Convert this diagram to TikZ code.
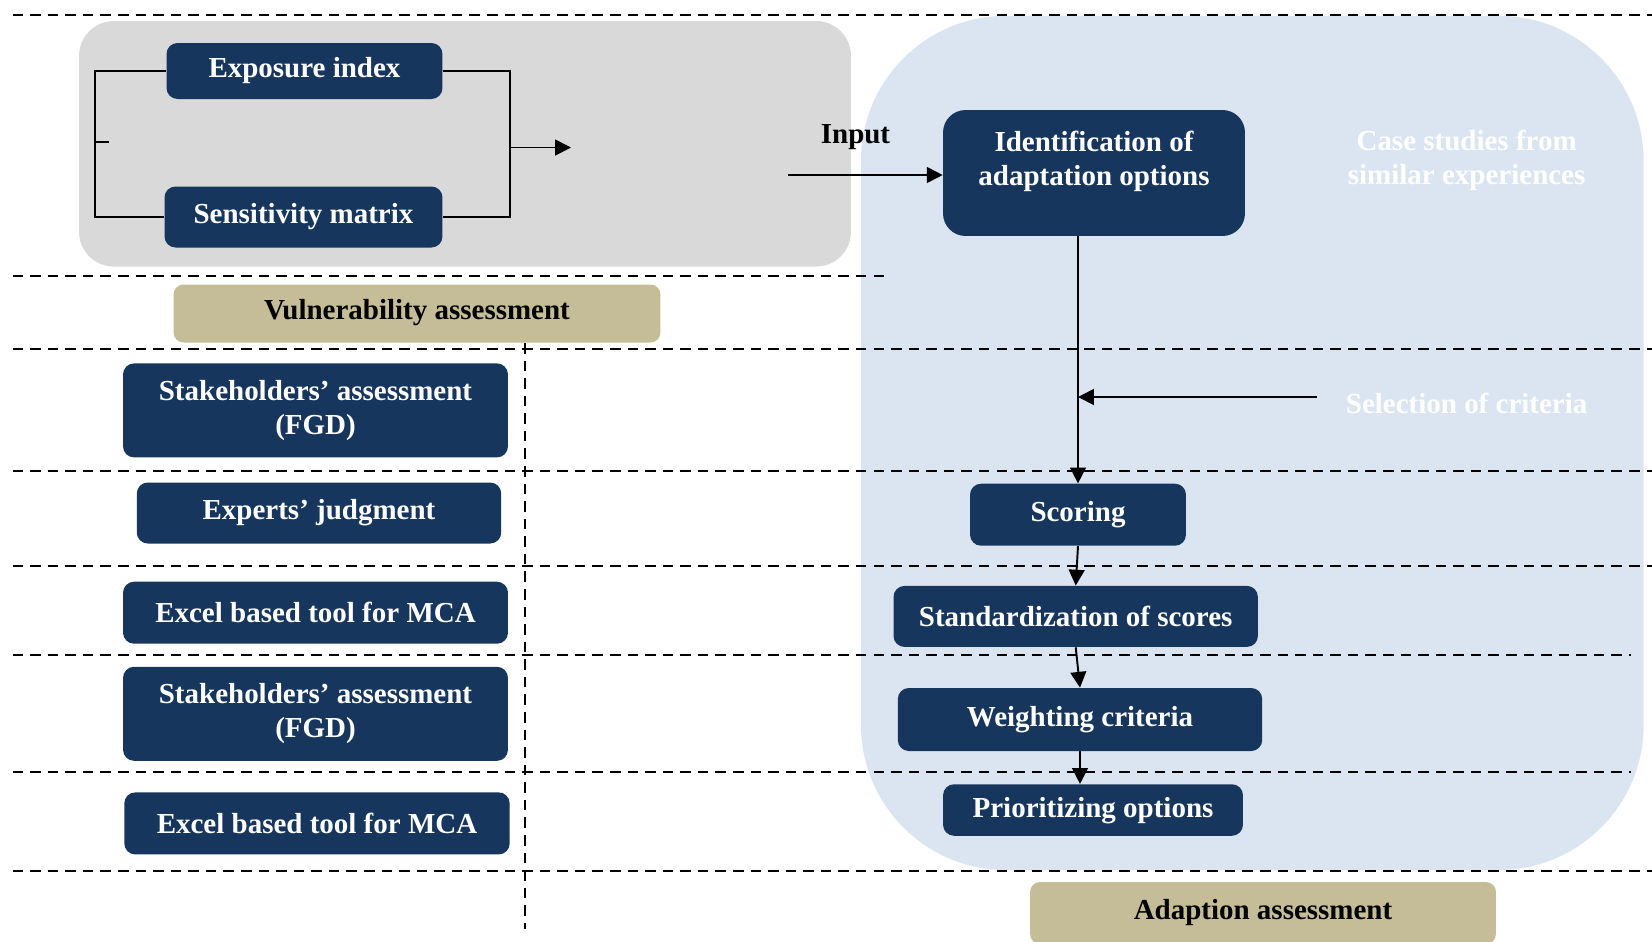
\documentclass[tikz,border=0pt]{standalone}
\usepackage{fontspec}
\setmainfont{Liberation Serif}
\usetikzlibrary{arrows.meta}

\definecolor{marinho}{HTML}{17365D}
\definecolor{cinza}{HTML}{D9D9D9}
\definecolor{azul}{HTML}{DBE5F1}
\definecolor{caqui}{HTML}{C4BD97}

\begin{document}
\begin{tikzpicture}[x=0.02cm,y=-0.02cm,
  texto/.style={font=\fontsize{16.5}{19.5}\selectfont\bfseries, align=center, inner sep=0pt},
  caixa/.style={texto, fill=marinho, text=white, rounded corners=0.22cm},
  rotulo/.style={texto, fill=caqui, rounded corners=0.2cm, text height=0.91em, text depth=0.22em},
  tracejado/.style={dash pattern=on 6pt off 4pt, line width=1.1pt},
  seta/.style={-{Triangle[length=9pt,width=9pt]}, line width=1.1pt}]

\useasboundingbox (0,0) rectangle (1652,941);
\clip (0,0) rectangle (1652,941);

% Regioes de fundo
\fill[cinza, rounded corners=0.7cm] (79,21) rectangle (851,266.6);
\fill[azul, rounded corners=2.9cm] (861,15.8) rectangle (1643.6,870);

% Linhas tracejadas
\foreach \y/\xb in {14.75/1652, 276/890, 348.7/1652, 471/1652, 565.8/1652, 655.3/1631, 772.3/1631, 871.3/1652}
  \draw[tracejado] (12.6,\y) -- (\xb,\y);
\draw[tracejado] (524.7,343) -- (524.7,929);

% Vulnerabilidade
\node[caixa, minimum width=5.52cm, minimum height=1.12cm, text height=1.0em, text depth=0.22em] (expo) at (304.5,71) {Exposure index};
\node[caixa, minimum width=5.56cm, minimum height=1.22cm] (sens) at (303.5,217) {Sensitivity matrix};
\coordinate (esq) at (94.8,142);
\coordinate (dir) at (510,147.5);
\coordinate (saida) at (571,147.5);
\draw[line width=0.8pt] (expo.west) -| (esq) |- (sens.west);
\draw[line width=0.8pt] (esq) -- ++(13.7,0);
\draw[line width=0.8pt] (expo.east) -| (dir) |- (sens.east);
\draw[seta] (dir) -- (saida);
\node[rotulo, minimum width=9.74cm, minimum height=1.16cm] (vuln) at (417,313.5) {Vulnerability assessment};

% Ferramentas
\node[caixa, minimum width=7.7cm, minimum height=1.88cm] (stake1) at (315.5,410.4) {Stakeholders’ assessment\\(FGD)};
\node[caixa, minimum width=7.29cm, minimum height=1.22cm] (expert) at (319,513) {Experts’ judgment};
\node[caixa, minimum width=7.7cm, minimum height=1.24cm] (excel1) at (315.5,612.7) {Excel based tool for MCA};
\node[caixa, minimum width=7.7cm, minimum height=1.88cm] (stake2) at (315.5,713.8) {Stakeholders’ assessment\\(FGD)};
\node[caixa, minimum width=7.71cm, minimum height=1.24cm] (excel2) at (317,823.4) {Excel based tool for MCA};

% Adaptacao
\node[caixa, rounded corners=0.45cm, minimum width=6.04cm, minimum height=2.52cm] (ident) at (1094,173) {};
\node[texto, text=white] (identtxt) at (1094,161.5) {Identification of\\adaptation options};
\node[texto] (input) at (855.5,137) {Input};
\coordinate (entrada) at (788,175);
\draw[seta] (entrada) -- (entrada -| ident.west);
\node[texto, text=white] (casos) at (1466.6,160.5) {Case studies from\\similar experiences};
\node[texto, text=white] (selecao) at (1466.6,403.5) {Selection of criteria};

\node[caixa, minimum width=4.32cm, minimum height=1.24cm] (scor) at (1078,514.7) {Scoring};
\node[caixa, minimum width=7.29cm, minimum height=1.22cm] (std) at (1075.7,616.4) {Standardization of scores};
\node[caixa, minimum width=7.29cm, minimum height=1.26cm] (peso) at (1080,719.5) {Weighting criteria};
\node[caixa, minimum width=6.0cm, minimum height=1.03cm, text height=1.12em, text depth=0.22em] (prior) at (1093,810) {Prioritizing options};
\node[rotulo, minimum width=9.32cm, minimum height=1.24cm] (adapt) at (1263,913) {Adaption assessment};

\coordinate (crit) at (1317,397);
\draw[seta] (scor.north |- ident.south) -- (scor.north);
\draw[seta] (crit) -- (crit -| scor.north);
\draw[seta] (scor.south) -- (std.north);
\draw[seta] (std.south) -- (peso.north);
\draw[seta] (peso.south) -- (peso.south |- prior.north);

\end{tikzpicture}
\end{document}
